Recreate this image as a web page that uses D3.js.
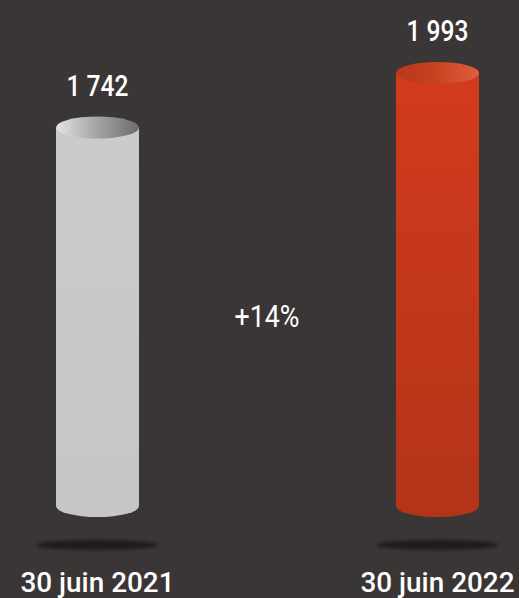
<!DOCTYPE html>
<html><head><meta charset="utf-8">
<script src="https://cdn.jsdelivr.net/npm/d3@7"></script>
<style>body{margin:0;background:#3a3635;}svg{display:block}</style>
</head><body>
<script>
const categories = ["30 juin 2021", "30 juin 2022"];
const values = [1742, 1993];
const valueLabels = ["1 742", "1 993"];
const changeLabel = "+14%";

const W = 519, H = 598;
const svg = d3.select("body").append("svg").attr("width", W).attr("height", H);
svg.append("rect").attr("width", W).attr("height", H).attr("fill", "#3a3635");

const defs = svg.append("defs");
function lin(id, x2, y2, stops) {
  const g = defs.append("linearGradient").attr("id", id).attr("x1", 0).attr("y1", 0).attr("x2", x2).attr("y2", y2);
  stops.forEach(s => g.append("stop").attr("offset", s[0]).attr("stop-color", s[1]));
}
lin("greyBody", 0, 1, [[0, "#cbcbcb"], [1, "#c6c6c6"]]);
lin("greyTop", 1, 0, [[0, "#e4e4e4"], [0.45, "#a9a9a9"], [1, "#6c6c6e"]]);
lin("redBody", 0, 1, [[0, "#d33b1d"], [1, "#b23418"]]);
lin("redTop", 1, 0, [[0, "#b6381c"], [0.5, "#c8431f"], [1, "#e05d3e"]]);
const blur = defs.append("filter").attr("id", "blur").attr("x", "-20%").attr("y", "-100%").attr("width", "140%").attr("height", "300%");
blur.append("feGaussianBlur").attr("stdDeviation", 1.6);

const fills = [["greyBody", "greyTop"], ["redBody", "redTop"]];

const x = d3.scalePoint().domain(categories).range([97.5, 437.5]);
const y = d3.scaleLinear().domain([0, 1993]).range([506, 73]);
const bw = 83, ry = 11;

const g = svg.selectAll("g.cyl").data(categories).join("g").attr("class", "cyl");

// shadows
g.append("ellipse")
  .attr("cx", d => x(d)).attr("cy", 545).attr("rx", 61).attr("ry", 5)
  .attr("fill", "#1c1a1a").attr("filter", "url(#blur)");

// body
g.append("path")
  .attr("d", (d, i) => {
    const cx = x(d), l = cx - bw / 2, r = cx + bw / 2, t = y(values[i]), b = y(0);
    return `M${l},${t} L${l},${b} A${bw / 2},${ry} 0 0 0 ${r},${b} L${r},${t} Z`;
  })
  .attr("fill", (d, i) => `url(#${fills[i][0]})`);

// top
g.append("ellipse")
  .attr("cx", d => x(d)).attr("cy", (d, i) => y(values[i]))
  .attr("rx", bw / 2).attr("ry", ry)
  .attr("fill", (d, i) => `url(#${fills[i][1]})`);

// value labels
g.append("text")
  .attr("x", d => x(d)).attr("y", (d, i) => y(values[i]) - 32)
  .attr("text-anchor", "middle")
  .attr("font-family", "Roboto, sans-serif").attr("font-weight", 500)
  .attr("font-size", 30).attr("fill", "#ffffff")
  .attr("textLength", 62).attr("lengthAdjust", "spacingAndGlyphs")
  .text((d, i) => valueLabels[i]);

// category labels
g.append("text")
  .attr("x", d => x(d)).attr("y", 592)
  .attr("text-anchor", "middle")
  .attr("font-family", "Roboto, sans-serif").attr("font-weight", 500)
  .attr("font-size", 28).attr("fill", "#ffffff")
  .attr("textLength", 154).attr("lengthAdjust", "spacingAndGlyphs")
  .text(d => d);

svg.append("text")
  .attr("x", 267).attr("y", 327)
  .attr("text-anchor", "middle")
  .attr("font-family", "Roboto, sans-serif").attr("font-weight", 400)
  .attr("font-size", 31).attr("fill", "#ffffff")
  .attr("textLength", 65).attr("lengthAdjust", "spacingAndGlyphs")
  .text(changeLabel);
</script>
</body></html>
